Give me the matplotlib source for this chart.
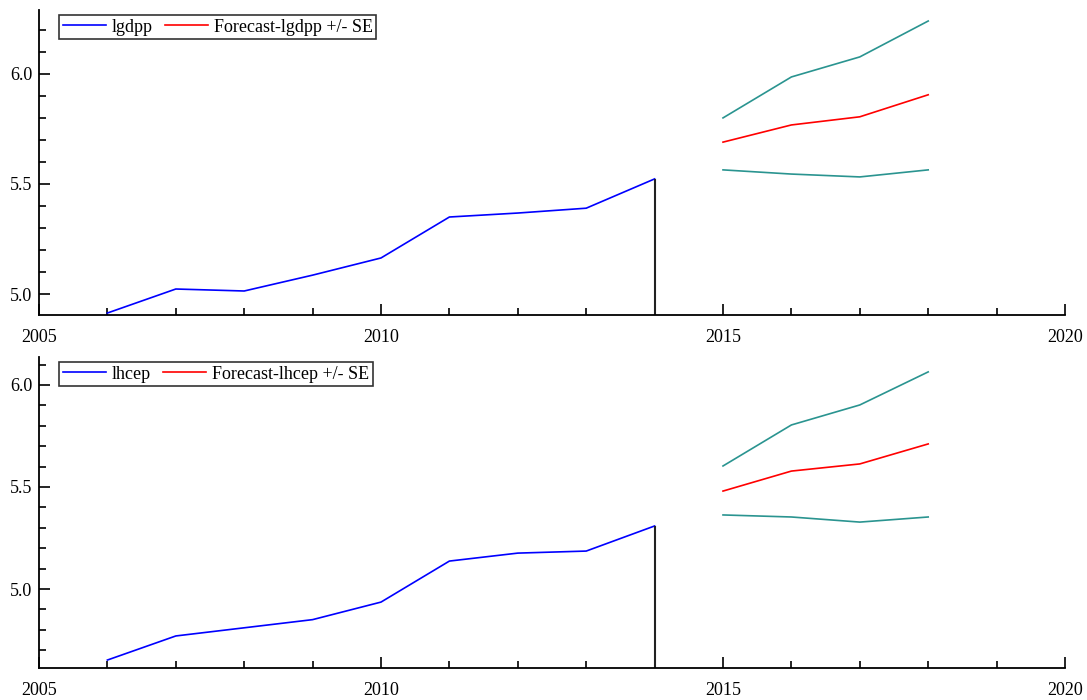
import numpy as np
import matplotlib.pyplot as plt
from matplotlib.ticker import MultipleLocator

plt.rcParams['font.family'] = ['Liberation Serif', 'DejaVu Serif']

# actual data
years = [2006, 2007, 2008, 2009, 2010, 2011, 2012, 2013, 2014]
lgdpp = [4.914, 5.023, 5.014, 5.086, 5.164, 5.350, 5.368, 5.390, 5.523]
lhcep = [4.652, 4.770, 4.810, 4.850, 4.936, 5.137, 5.176, 5.186, 5.309]

# forecasts with +/- SE bands
fc_years = [2015, 2016, 2017, 2018]
lgdpp_fc = [5.690, 5.768, 5.805, 5.905]
lgdpp_hi = [5.800, 5.986, 6.077, 6.240]
lgdpp_lo = [5.564, 5.545, 5.532, 5.564]
lhcep_fc = [5.480, 5.578, 5.613, 5.711]
lhcep_hi = [5.603, 5.804, 5.902, 6.064]
lhcep_lo = [5.363, 5.353, 5.328, 5.353]

x_ticks = [2005, 2010, 2015, 2020]
y_ticks = [5.0, 5.5, 6.0]

BAND = '#2a9490'
FS = 13

fig = plt.figure(figsize=(10.87, 7.0), dpi=100)
W, H = 1087, 700


def panel(rect, name, actual, fc, hi, lo, ylim):
    l, t, r, b = rect
    ax = fig.add_axes([l / W, 1 - b / H, (r - l) / W, (b - t) / H])
    ax.plot(years, actual, color='blue', lw=1.2, label=name)
    ax.plot(fc_years, fc, color='red', lw=1.2, label='Forecast-%s +/- SE' % name)
    ax.plot(fc_years, hi, color=BAND, lw=1.2)
    ax.plot(fc_years, lo, color=BAND, lw=1.2)
    # marker for the start of the forecast period
    ax.vlines(years[-1], ylim[0], actual[-1], color='#222222', lw=1.5)

    ax.set_xlim(2005, 2020)
    ax.set_ylim(*ylim)
    ax.set_xticks(x_ticks)
    ax.set_yticks(y_ticks)
    ax.yaxis.set_major_formatter(plt.FormatStrFormatter('%.1f'))
    ax.xaxis.set_minor_locator(MultipleLocator(1))
    ax.yaxis.set_minor_locator(MultipleLocator(0.1))
    ax.tick_params(which='major', direction='in', length=8, width=1.2,
                   labelsize=FS, pad=5)
    ax.tick_params(which='minor', direction='in', length=5, width=1.2)
    ax.tick_params(axis='x', pad=10)
    for s in ('top', 'right'):
        ax.spines[s].set_visible(False)
    for s in ('left', 'bottom'):
        ax.spines[s].set_linewidth(1.3)

    # legend box sits 20 px right of and 5 px below the axes corner
    ax_h = b - t
    leg = ax.legend(loc='upper left', ncol=2, fontsize=FS, frameon=True,
                    fancybox=False, edgecolor='black', borderpad=0.2,
                    handlelength=2.4, handletextpad=0.3, columnspacing=0.7,
                    borderaxespad=0,
                    bbox_to_anchor=(20 / (r - l), 1 - 5 / ax_h))
    leg.get_frame().set_linewidth(1.2)
    return ax


panel((39, 10, 1065, 315), 'lgdpp', lgdpp, lgdpp_fc, lgdpp_hi, lgdpp_lo,
      (4.905, 6.29))
panel((39, 357, 1065, 668), 'lhcep', lhcep, lhcep_fc, lhcep_hi, lhcep_lo,
      (4.613, 6.137))

fig.savefig('out.png', dpi=100)
